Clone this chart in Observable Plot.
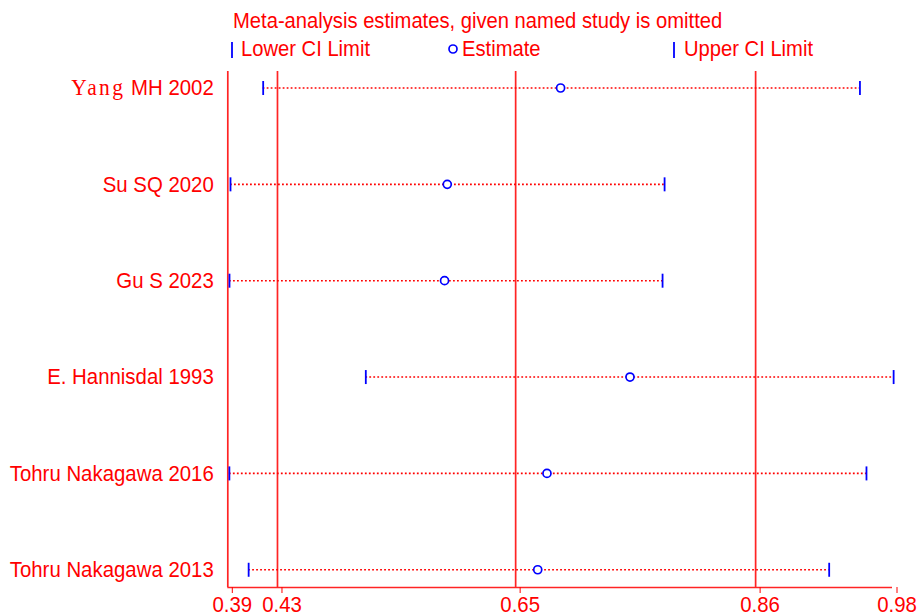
<!DOCTYPE html>
<html><head><meta charset="utf-8">
<script src="https://cdn.jsdelivr.net/npm/d3@7"></script>
<script src="https://cdn.jsdelivr.net/npm/@observablehq/plot@0.6"></script>
<style>
body{margin:0;background:#fff;font-family:"Liberation Sans",Arial,sans-serif;}
#header{position:relative;height:62px;width:919px;}
.t{position:absolute;font-size:20.2px;line-height:20px;color:#ff0000;white-space:nowrap;transform:scaleY(1.1);transform-origin:0 17px;}
#chart svg{overflow:visible;}
</style></head><body>
<div id="header">
  <div class="t" style="left:233px;top:11px">Meta-analysis estimates, given named study is omitted</div>
  <svg style="position:absolute;left:0;top:0" width="919" height="62">
    <line x1="232" x2="232" y1="42" y2="58" stroke="blue" stroke-width="1.8"/>
    <circle cx="453" cy="49" r="4" fill="none" stroke="blue" stroke-width="1.7"/>
    <line x1="674" x2="674" y1="42" y2="58" stroke="blue" stroke-width="1.8"/>
  </svg>
  <div class="t" style="left:241px;top:39px">Lower CI Limit</div>
  <div class="t" style="left:462px;top:39px">Estimate</div>
  <div class="t" style="left:684px;top:39px">Upper CI Limit</div>
</div>
<div id="chart"></div>
<script>
const studies = ["Yang MH 2002","Su SQ 2020","Gu S 2023","E. Hannisdal 1993","Tohru Nakagawa 2016","Tohru Nakagawa 2013"];
const lowerCI = [0.4214, 0.3924, 0.3915, 0.5125, 0.3914, 0.4085];
const estimate = [0.6854, 0.5848, 0.5824, 0.7470, 0.6733, 0.6651];
const upperCI = [0.9511, 0.7777, 0.7759, 0.9810, 0.9569, 0.9238];
const overall = [0.4341, 0.6455, 0.8585];          // overall lower, estimate, upper
const tickValues = [0.39, 0.4341, 0.6455, 0.8585, 0.98];
const tickLabels = ["0.39","0.43","0.65","0.86","0.98"];
const xDomain = [0.39, 0.98];

const rows = studies.map((s, i) => ({i, study: s, lo: lowerCI[i], est: estimate[i], hi: upperCI[i]}));
const yDomain = [-0.171, 5.184];
const red = "#ff0000";
const vbar = {draw(ctx, size) { ctx.moveTo(0, -7); ctx.lineTo(0, 7); }};

const plot = Plot.plot({
  width: 919,
  height: 554,
  marginLeft: 227.3,
  marginRight: 27,
  marginTop: 9,
  marginBottom: 29,
  style: {background: "#fff", color: red, fontSize: "20.4px", fontFamily: "'Liberation Sans', Arial, sans-serif"},
  x: {domain: xDomain},
  y: {domain: yDomain, reverse: true},
  marks: [
    Plot.ruleX(overall, {stroke: "#ff2424", strokeWidth: 1.7}),
    Plot.ruleX([xDomain[0]], {stroke: "#ff2424", strokeWidth: 1.7}),
    Plot.ruleY([yDomain[1]], {stroke: "#ff2424", strokeWidth: 1.7}),
    Plot.ruleY(rows, {y: "i", x1: "lo", x2: "hi", stroke: red, strokeWidth: 1.6, strokeDasharray: "1.8,2.2"}),
    Plot.dot(rows, {x: "lo", y: "i", symbol: vbar, stroke: "blue", strokeWidth: 1.8, fill: "none"}),
    Plot.dot(rows, {x: "hi", y: "i", symbol: vbar, stroke: "blue", strokeWidth: 1.8, fill: "none"}),
    Plot.dot(rows, {x: "est", y: "i", r: 4, stroke: "blue", strokeWidth: 1.7, fill: "white"}),
    Plot.axisY({ticks: d3.range(studies.length), tickFormat: i => studies[i], tickSize: 0, tickPadding: 14, fontSize: 20.4, label: null}),
    Plot.axisX({ticks: tickValues, tickFormat: (d, k) => tickLabels[k], tickSize: 6, tickPadding: 3, dx: 4.5, fontSize: 20.4, label: null})
  ]
});
document.getElementById("chart").appendChild(plot);

const ns = "http://www.w3.org/2000/svg";
plot.querySelectorAll("text").forEach(t => {
  // render "Yang" in a thin serif face as in the reference
  if (t.textContent === "Yang MH 2002") {
    t.textContent = "";
    const a = document.createElementNS(ns, "tspan");
    a.setAttribute("font-family", "'Liberation Serif', 'DejaVu Serif', serif");
    a.setAttribute("font-size", "21.5");
    a.setAttribute("letter-spacing", "2.4");
    a.textContent = "Yang";
    const b = document.createElementNS(ns, "tspan");
    b.textContent = " MH 2002";
    t.appendChild(a); t.appendChild(b);
  }
  // slightly taller glyphs, as in the reference
  const tr = t.getAttribute("transform");
  if (tr) t.setAttribute("transform", tr + " scale(1,1.1)");
  else {
    const x = +(t.getAttribute("x") || 0), y = +(t.getAttribute("y") || 0);
    t.setAttribute("x", 0); t.setAttribute("y", 0);
    t.setAttribute("transform", `translate(${x},${y}) scale(1,1.1)`);
  }
});
</script>
</body></html>
